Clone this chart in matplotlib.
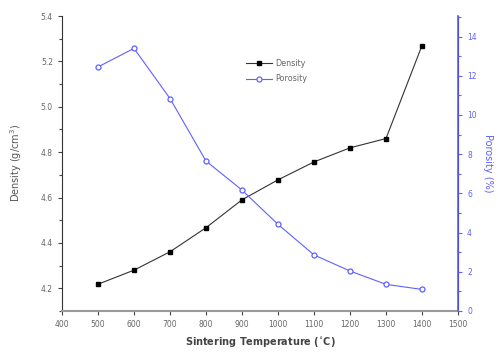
import matplotlib
matplotlib.use("Agg")
import matplotlib.pyplot as plt
from matplotlib.ticker import MultipleLocator, FormatStrFormatter

temperature = [500, 600, 700, 800, 900, 1000, 1100, 1200, 1300, 1400]
density = [4.218, 4.28, 4.361, 4.467, 4.59, 4.678, 4.757, 4.819, 4.86, 5.27]
porosity = [12.45, 13.4, 10.84, 7.65, 6.17, 4.42, 2.86, 2.04, 1.36, 1.1]

blue = "#6060ff"
gray = "#666666"

fig = plt.figure(figsize=(4.98, 3.58), dpi=100)
ax = fig.add_axes([62 / 498, 1 - 311 / 358, (458 - 62) / 498, (311 - 16) / 358])
ax2 = ax.twinx()

l1, = ax.plot(temperature, density, "-", color="#333333", lw=0.8, marker="s", ms=3,
              mfc="black", mec="black", label="Density")
l2, = ax2.plot(temperature, porosity, "-", color=blue, lw=0.8, marker="o", ms=3.6,
               mfc="white", mec=blue, mew=0.9, label="Porosity")

ax.set_xlim(400, 1500)
ax.set_ylim(4.1, 5.4)
ax2.set_ylim(0, 15.05)
ax.xaxis.set_major_locator(MultipleLocator(100))
ax.yaxis.set_major_locator(MultipleLocator(0.2))
ax.yaxis.set_minor_locator(MultipleLocator(0.1))
ax2.yaxis.set_major_locator(MultipleLocator(2))
ax2.yaxis.set_minor_locator(MultipleLocator(1))
ax.yaxis.set_major_formatter(FormatStrFormatter("%.1f"))

for a in (ax, ax2):
    a.spines["top"].set_visible(False)
ax.spines["bottom"].set_color("#999999")
ax.spines["bottom"].set_linewidth(1.5)
ax.spines["left"].set_color("#333333")
ax2.spines["right"].set_color(blue)
ax2.spines["right"].set_linewidth(1.2)
ax2.spines["left"].set_visible(False)
ax2.spines["bottom"].set_visible(False)

ax.tick_params(axis="both", which="both", direction="out", labelsize=5.5,
               labelcolor=gray, color="#444444", width=0.8)
ax.tick_params(which="major", length=3)
ax.tick_params(which="minor", length=2)
ax2.tick_params(axis="y", which="both", direction="out", labelsize=5.5,
                labelcolor=blue, color=blue, width=0.8)
ax2.tick_params(which="major", length=3)
ax2.tick_params(which="minor", length=2)

ax.set_xlabel("Sintering Temperature ($^{\\circ}$C)", fontsize=7, color="#444444",
              fontweight="bold", labelpad=4)
ax.set_ylabel("Density (g/cm$^{3}$)", fontsize=7, color="#555555", labelpad=12)
ax2.set_ylabel("Porosity (%)", fontsize=7, color=blue, rotation=270, labelpad=12)

ax.legend([l1, l2], ["Density", "Porosity"], loc="upper left",
          bbox_to_anchor=(0.45, 0.875), frameon=False, fontsize=5.8,
          labelcolor=gray, handlelength=3.2, handletextpad=0.4, borderpad=0.2,
          labelspacing=0.85)

fig.savefig("out.png", dpi=100)
